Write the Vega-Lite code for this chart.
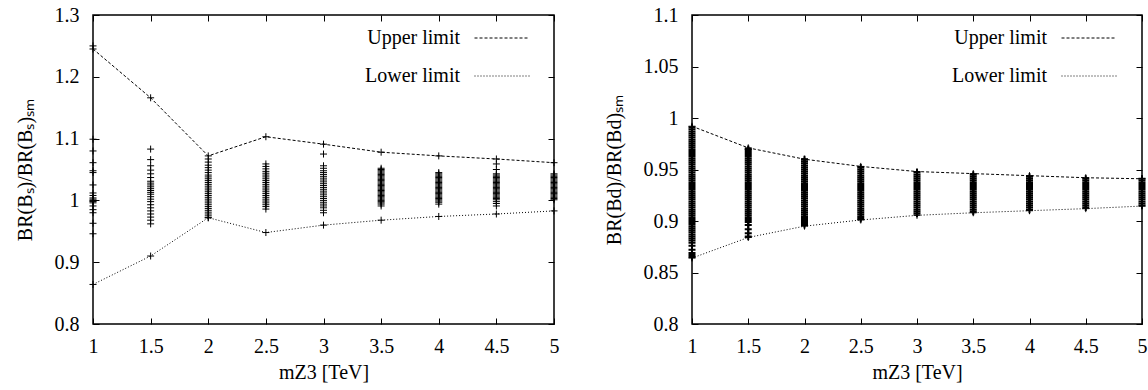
{
  "$schema": "https://vega.github.io/schema/vega-lite/v6.json",
  "padding": {"left": 14, "top": 4, "right": 0, "bottom": 0},
  "background": "white",
  "spacing": 42,
  "config": {
    "font": "Liberation Serif",
    "view": {"stroke": "black", "strokeWidth": 1.5},
    "axis": {"domain": false, "grid": false, "tickColor": "black", "tickSize": -6, "tickWidth": 1, "labelFlush": false,
      "labelFont": "Liberation Serif", "labelFontSize": 20, "labelColor": "black",
      "titleFont": "Liberation Serif", "titleFontSize": 20, "titleFontWeight": "normal", "titleColor": "black"},
    "legend": {"orient": "none", "title": null, "symbolType": "stroke", "symbolSize": 3025,
      "symbolStrokeColor": "black", "symbolStrokeWidth": 1, "labelAlign": "right", "labelOffset": -70,
      "labelFont": "Liberation Serif", "labelFontSize": 20, "labelColor": "black", "rowPadding": -8, "padding": 0}
  },
  "datasets": {
    "lp": [
      {"x":1,"y":1.25},{"x":1,"y":1.099},{"x":1,"y":1.080},{"x":1,"y":1.061},{"x":1,"y":1.048},{"x":1,"y":1.045},{"x":1,"y":1.025},{"x":1,"y":1.012},{"x":1,"y":1.008},{"x":1,"y":1.004},{"x":1,"y":1.002},{"x":1,"y":1.000},{"x":1,"y":0.999},{"x":1,"y":0.998},{"x":1,"y":0.996},{"x":1,"y":0.991},{"x":1,"y":0.985},{"x":1,"y":0.980},{"x":1,"y":0.963},{"x":1,"y":0.946},
      {"x":1.5,"y":1.083},{"x":1.5,"y":1.066},{"x":1.5,"y":1.056},{"x":1.5,"y":1.049},{"x":1.5,"y":1.043},{"x":1.5,"y":1.037},{"x":1.5,"y":1.031},{"x":1.5,"y":1.028},{"x":1.5,"y":1.025},{"x":1.5,"y":1.022},{"x":1.5,"y":1.019},{"x":1.5,"y":1.016},{"x":1.5,"y":1.013},{"x":1.5,"y":1.010},{"x":1.5,"y":1.006},{"x":1.5,"y":1.002},{"x":1.5,"y":0.998},{"x":1.5,"y":0.993},{"x":1.5,"y":0.988},{"x":1.5,"y":0.983},{"x":1.5,"y":0.978},{"x":1.5,"y":0.973},{"x":1.5,"y":0.968},{"x":1.5,"y":0.962},
      {"x":2,"y":1.067},{"x":2,"y":1.062},{"x":2,"y":1.057},{"x":2,"y":1.053},{"x":2,"y":1.049},{"x":2,"y":1.045},{"x":2,"y":1.041},{"x":2,"y":1.038},{"x":2,"y":1.035},{"x":2,"y":1.032},{"x":2,"y":1.029},{"x":2,"y":1.026},{"x":2,"y":1.023},{"x":2,"y":1.020},{"x":2,"y":1.017},{"x":2,"y":1.014},{"x":2,"y":1.011},{"x":2,"y":1.008},{"x":2,"y":1.005},{"x":2,"y":1.002},{"x":2,"y":0.999},{"x":2,"y":0.996},{"x":2,"y":0.993},{"x":2,"y":0.990},{"x":2,"y":0.987},{"x":2,"y":0.984},{"x":2,"y":0.981},{"x":2,"y":0.978},{"x":2,"y":0.975},{"x":2,"y":0.972},
      {"x":2.5,"y":1.059},{"x":2.5,"y":1.055},{"x":2.5,"y":1.051},{"x":2.5,"y":1.047},{"x":2.5,"y":1.044},{"x":2.5,"y":1.041},{"x":2.5,"y":1.038},{"x":2.5,"y":1.035},{"x":2.5,"y":1.032},{"x":2.5,"y":1.029},{"x":2.5,"y":1.026},{"x":2.5,"y":1.023},{"x":2.5,"y":1.020},{"x":2.5,"y":1.017},{"x":2.5,"y":1.014},{"x":2.5,"y":1.011},{"x":2.5,"y":1.008},{"x":2.5,"y":1.005},{"x":2.5,"y":1.002},{"x":2.5,"y":0.999},{"x":2.5,"y":0.996},{"x":2.5,"y":0.993},{"x":2.5,"y":0.990},{"x":2.5,"y":0.986},
      {"x":3,"y":1.075},{"x":3,"y":1.056},{"x":3,"y":1.052},{"x":3,"y":1.048},{"x":3,"y":1.045},{"x":3,"y":1.042},{"x":3,"y":1.039},{"x":3,"y":1.036},{"x":3,"y":1.033},{"x":3,"y":1.030},{"x":3,"y":1.027},{"x":3,"y":1.024},{"x":3,"y":1.021},{"x":3,"y":1.018},{"x":3,"y":1.015},{"x":3,"y":1.012},{"x":3,"y":1.009},{"x":3,"y":1.006},{"x":3,"y":1.003},{"x":3,"y":1.000},{"x":3,"y":0.997},{"x":3,"y":0.994},{"x":3,"y":0.991},{"x":3,"y":0.988},{"x":3,"y":0.984},{"x":3,"y":0.980},
      {"x":3.5,"y":1.052},{"x":3.5,"y":1.050},{"x":3.5,"y":1.048},{"x":3.5,"y":1.046},{"x":3.5,"y":1.044},{"x":3.5,"y":1.042},{"x":3.5,"y":1.040},{"x":3.5,"y":1.038},{"x":3.5,"y":1.036},{"x":3.5,"y":1.034},{"x":3.5,"y":1.032},{"x":3.5,"y":1.030},{"x":3.5,"y":1.028},{"x":3.5,"y":1.026},{"x":3.5,"y":1.024},{"x":3.5,"y":1.022},{"x":3.5,"y":1.020},{"x":3.5,"y":1.018},{"x":3.5,"y":1.016},{"x":3.5,"y":1.014},{"x":3.5,"y":1.012},{"x":3.5,"y":1.010},{"x":3.5,"y":1.008},{"x":3.5,"y":1.006},{"x":3.5,"y":1.004},{"x":3.5,"y":1.002},{"x":3.5,"y":1.000},{"x":3.5,"y":0.998},{"x":3.5,"y":0.996},{"x":3.5,"y":0.994},{"x":3.5,"y":0.991},
      {"x":4,"y":1.045},{"x":4,"y":1.043},{"x":4,"y":1.041},{"x":4,"y":1.039},{"x":4,"y":1.037},{"x":4,"y":1.035},{"x":4,"y":1.033},{"x":4,"y":1.031},{"x":4,"y":1.029},{"x":4,"y":1.027},{"x":4,"y":1.025},{"x":4,"y":1.023},{"x":4,"y":1.021},{"x":4,"y":1.019},{"x":4,"y":1.017},{"x":4,"y":1.015},{"x":4,"y":1.013},{"x":4,"y":1.011},{"x":4,"y":1.009},{"x":4,"y":1.007},{"x":4,"y":1.005},{"x":4,"y":1.003},{"x":4,"y":1.001},{"x":4,"y":0.999},{"x":4,"y":0.997},{"x":4,"y":0.994},
      {"x":4.5,"y":1.059},{"x":4.5,"y":1.050},{"x":4.5,"y":1.043},{"x":4.5,"y":1.041},{"x":4.5,"y":1.039},{"x":4.5,"y":1.037},{"x":4.5,"y":1.035},{"x":4.5,"y":1.033},{"x":4.5,"y":1.031},{"x":4.5,"y":1.029},{"x":4.5,"y":1.027},{"x":4.5,"y":1.025},{"x":4.5,"y":1.023},{"x":4.5,"y":1.021},{"x":4.5,"y":1.019},{"x":4.5,"y":1.017},{"x":4.5,"y":1.015},{"x":4.5,"y":1.013},{"x":4.5,"y":1.011},{"x":4.5,"y":1.009},{"x":4.5,"y":1.007},{"x":4.5,"y":1.005},{"x":4.5,"y":1.003},{"x":4.5,"y":1.001},{"x":4.5,"y":0.998},{"x":4.5,"y":0.995},{"x":4.5,"y":0.991},
      {"x":5,"y":1.043},{"x":5,"y":1.041},{"x":5,"y":1.039},{"x":5,"y":1.037},{"x":5,"y":1.035},{"x":5,"y":1.033},{"x":5,"y":1.031},{"x":5,"y":1.029},{"x":5,"y":1.027},{"x":5,"y":1.025},{"x":5,"y":1.023},{"x":5,"y":1.021},{"x":5,"y":1.019},{"x":5,"y":1.017},{"x":5,"y":1.015},{"x":5,"y":1.013},{"x":5,"y":1.011},{"x":5,"y":1.009},{"x":5,"y":1.007},{"x":5,"y":1.005},{"x":5,"y":1.003},{"x":5,"y":1.001}
    ],
    "ll": [
      {"x":1,"y":1.245,"limit":"Upper limit"},{"x":1.5,"y":1.166,"limit":"Upper limit"},{"x":2,"y":1.072,"limit":"Upper limit"},{"x":2.5,"y":1.103,"limit":"Upper limit"},{"x":3,"y":1.091,"limit":"Upper limit"},{"x":3.5,"y":1.078,"limit":"Upper limit"},{"x":4,"y":1.072,"limit":"Upper limit"},{"x":4.5,"y":1.067,"limit":"Upper limit"},{"x":5,"y":1.061,"limit":"Upper limit"},
      {"x":1,"y":0.864,"limit":"Lower limit"},{"x":1.5,"y":0.910,"limit":"Lower limit"},{"x":2,"y":0.972,"limit":"Lower limit"},{"x":2.5,"y":0.948,"limit":"Lower limit"},{"x":3,"y":0.960,"limit":"Lower limit"},{"x":3.5,"y":0.968,"limit":"Lower limit"},{"x":4,"y":0.974,"limit":"Lower limit"},{"x":4.5,"y":0.978,"limit":"Lower limit"},{"x":5,"y":0.983,"limit":"Lower limit"}
    ],
    "rp": [
      {"x":1,"y":0.865},{"x":1,"y":0.867},{"x":1,"y":0.869},{"x":1,"y":0.872},{"x":1,"y":0.876},{"x":1,"y":0.879},{"x":1,"y":0.881},{"x":1,"y":0.883},{"x":1,"y":0.885},{"x":1,"y":0.887},{"x":1,"y":0.889},{"x":1,"y":0.891},{"x":1,"y":0.893},{"x":1,"y":0.895},{"x":1,"y":0.897},{"x":1,"y":0.899},{"x":1,"y":0.901},{"x":1,"y":0.903},{"x":1,"y":0.905},{"x":1,"y":0.907},{"x":1,"y":0.909},{"x":1,"y":0.911},{"x":1,"y":0.913},{"x":1,"y":0.915},{"x":1,"y":0.917},{"x":1,"y":0.919},{"x":1,"y":0.921},{"x":1,"y":0.923},{"x":1,"y":0.925},{"x":1,"y":0.927},{"x":1,"y":0.929},{"x":1,"y":0.931},{"x":1,"y":0.933},{"x":1,"y":0.935},{"x":1,"y":0.937},{"x":1,"y":0.939},{"x":1,"y":0.941},{"x":1,"y":0.943},{"x":1,"y":0.945},{"x":1,"y":0.947},{"x":1,"y":0.949},{"x":1,"y":0.951},{"x":1,"y":0.953},{"x":1,"y":0.955},{"x":1,"y":0.957},{"x":1,"y":0.959},{"x":1,"y":0.961},{"x":1,"y":0.963},{"x":1,"y":0.965},{"x":1,"y":0.967},{"x":1,"y":0.969},{"x":1,"y":0.971},{"x":1,"y":0.973},{"x":1,"y":0.975},{"x":1,"y":0.977},{"x":1,"y":0.979},{"x":1,"y":0.981},{"x":1,"y":0.983},{"x":1,"y":0.985},{"x":1,"y":0.987},{"x":1,"y":0.989},{"x":1,"y":0.991},
      {"x":1.5,"y":0.885},{"x":1.5,"y":0.888},{"x":1.5,"y":0.892},{"x":1.5,"y":0.896},{"x":1.5,"y":0.899},{"x":1.5,"y":0.901},{"x":1.5,"y":0.903},{"x":1.5,"y":0.905},{"x":1.5,"y":0.907},{"x":1.5,"y":0.909},{"x":1.5,"y":0.911},{"x":1.5,"y":0.913},{"x":1.5,"y":0.915},{"x":1.5,"y":0.917},{"x":1.5,"y":0.919},{"x":1.5,"y":0.921},{"x":1.5,"y":0.923},{"x":1.5,"y":0.925},{"x":1.5,"y":0.927},{"x":1.5,"y":0.929},{"x":1.5,"y":0.931},{"x":1.5,"y":0.933},{"x":1.5,"y":0.935},{"x":1.5,"y":0.937},{"x":1.5,"y":0.939},{"x":1.5,"y":0.941},{"x":1.5,"y":0.943},{"x":1.5,"y":0.945},{"x":1.5,"y":0.947},{"x":1.5,"y":0.949},{"x":1.5,"y":0.951},{"x":1.5,"y":0.953},{"x":1.5,"y":0.955},{"x":1.5,"y":0.957},{"x":1.5,"y":0.959},{"x":1.5,"y":0.961},{"x":1.5,"y":0.963},{"x":1.5,"y":0.965},{"x":1.5,"y":0.967},{"x":1.5,"y":0.969},{"x":1.5,"y":0.970},
      {"x":2,"y":0.896},{"x":2,"y":0.898},{"x":2,"y":0.900},{"x":2,"y":0.902},{"x":2,"y":0.904},{"x":2,"y":0.906},{"x":2,"y":0.908},{"x":2,"y":0.910},{"x":2,"y":0.912},{"x":2,"y":0.914},{"x":2,"y":0.916},{"x":2,"y":0.918},{"x":2,"y":0.920},{"x":2,"y":0.922},{"x":2,"y":0.924},{"x":2,"y":0.926},{"x":2,"y":0.928},{"x":2,"y":0.930},{"x":2,"y":0.932},{"x":2,"y":0.934},{"x":2,"y":0.936},{"x":2,"y":0.938},{"x":2,"y":0.940},{"x":2,"y":0.942},{"x":2,"y":0.944},{"x":2,"y":0.946},{"x":2,"y":0.948},{"x":2,"y":0.950},{"x":2,"y":0.952},{"x":2,"y":0.954},{"x":2,"y":0.956},{"x":2,"y":0.958},{"x":2,"y":0.960},
      {"x":2.5,"y":0.902},{"x":2.5,"y":0.904},{"x":2.5,"y":0.906},{"x":2.5,"y":0.908},{"x":2.5,"y":0.910},{"x":2.5,"y":0.912},{"x":2.5,"y":0.914},{"x":2.5,"y":0.916},{"x":2.5,"y":0.918},{"x":2.5,"y":0.920},{"x":2.5,"y":0.922},{"x":2.5,"y":0.924},{"x":2.5,"y":0.926},{"x":2.5,"y":0.928},{"x":2.5,"y":0.930},{"x":2.5,"y":0.932},{"x":2.5,"y":0.934},{"x":2.5,"y":0.936},{"x":2.5,"y":0.938},{"x":2.5,"y":0.940},{"x":2.5,"y":0.942},{"x":2.5,"y":0.944},{"x":2.5,"y":0.946},{"x":2.5,"y":0.948},{"x":2.5,"y":0.950},{"x":2.5,"y":0.952},
      {"x":3,"y":0.907},{"x":3,"y":0.909},{"x":3,"y":0.911},{"x":3,"y":0.913},{"x":3,"y":0.915},{"x":3,"y":0.917},{"x":3,"y":0.919},{"x":3,"y":0.921},{"x":3,"y":0.923},{"x":3,"y":0.925},{"x":3,"y":0.927},{"x":3,"y":0.929},{"x":3,"y":0.931},{"x":3,"y":0.933},{"x":3,"y":0.935},{"x":3,"y":0.937},{"x":3,"y":0.939},{"x":3,"y":0.941},{"x":3,"y":0.943},{"x":3,"y":0.945},{"x":3,"y":0.947},
      {"x":3.5,"y":0.909},{"x":3.5,"y":0.911},{"x":3.5,"y":0.913},{"x":3.5,"y":0.915},{"x":3.5,"y":0.917},{"x":3.5,"y":0.919},{"x":3.5,"y":0.921},{"x":3.5,"y":0.923},{"x":3.5,"y":0.925},{"x":3.5,"y":0.927},{"x":3.5,"y":0.929},{"x":3.5,"y":0.931},{"x":3.5,"y":0.933},{"x":3.5,"y":0.935},{"x":3.5,"y":0.937},{"x":3.5,"y":0.939},{"x":3.5,"y":0.941},{"x":3.5,"y":0.943},{"x":3.5,"y":0.945},
      {"x":4,"y":0.911},{"x":4,"y":0.913},{"x":4,"y":0.915},{"x":4,"y":0.917},{"x":4,"y":0.919},{"x":4,"y":0.921},{"x":4,"y":0.923},{"x":4,"y":0.925},{"x":4,"y":0.927},{"x":4,"y":0.929},{"x":4,"y":0.931},{"x":4,"y":0.933},{"x":4,"y":0.935},{"x":4,"y":0.937},{"x":4,"y":0.939},{"x":4,"y":0.941},{"x":4,"y":0.943},
      {"x":4.5,"y":0.913},{"x":4.5,"y":0.915},{"x":4.5,"y":0.917},{"x":4.5,"y":0.919},{"x":4.5,"y":0.921},{"x":4.5,"y":0.923},{"x":4.5,"y":0.925},{"x":4.5,"y":0.927},{"x":4.5,"y":0.929},{"x":4.5,"y":0.931},{"x":4.5,"y":0.933},{"x":4.5,"y":0.935},{"x":4.5,"y":0.937},{"x":4.5,"y":0.939},{"x":4.5,"y":0.941},
      {"x":5,"y":0.915},{"x":5,"y":0.917},{"x":5,"y":0.919},{"x":5,"y":0.921},{"x":5,"y":0.923},{"x":5,"y":0.925},{"x":5,"y":0.927},{"x":5,"y":0.929},{"x":5,"y":0.931},{"x":5,"y":0.933},{"x":5,"y":0.935},{"x":5,"y":0.937},{"x":5,"y":0.939},{"x":5,"y":0.941}
    ],
    "rl": [
      {"x":1,"y":0.992,"limit":"Upper limit"},{"x":1.5,"y":0.971,"limit":"Upper limit"},{"x":2,"y":0.960,"limit":"Upper limit"},{"x":2.5,"y":0.953,"limit":"Upper limit"},{"x":3,"y":0.948,"limit":"Upper limit"},{"x":3.5,"y":0.946,"limit":"Upper limit"},{"x":4,"y":0.944,"limit":"Upper limit"},{"x":4.5,"y":0.942,"limit":"Upper limit"},{"x":5,"y":0.941,"limit":"Upper limit"},
      {"x":1,"y":0.864,"limit":"Lower limit"},{"x":1.5,"y":0.884,"limit":"Lower limit"},{"x":2,"y":0.895,"limit":"Lower limit"},{"x":2.5,"y":0.901,"limit":"Lower limit"},{"x":3,"y":0.9055,"limit":"Lower limit"},{"x":3.5,"y":0.908,"limit":"Lower limit"},{"x":4,"y":0.910,"limit":"Lower limit"},{"x":4.5,"y":0.912,"limit":"Lower limit"},{"x":5,"y":0.9145,"limit":"Lower limit"}
    ]
  },
  "hconcat": [
    {
      "width": 461, "height": 309,
      "resolve": {"axis": {"x": "independent", "y": "independent"}},
      "layer": [
        {
          "data": {"name": "lp"},
          "mark": {"type": "point", "shape": "M-1,0L1,0M0,-1L0,1", "size": 49, "filled": false, "stroke": "black", "strokeWidth": 1, "opacity": 1},
          "encoding": {
            "x": {"field": "x", "type": "quantitative", "scale": {"domain": [1, 5], "nice": false, "zero": false},
              "axis": {"values": [1, 1.5, 2, 2.5, 3, 3.5, 4, 4.5, 5], "format": "~g", "title": "mZ3 [TeV]", "labelPadding": 18, "titlePadding": 6}},
            "y": {"field": "y", "type": "quantitative", "scale": {"domain": [0.8, 1.3], "nice": false, "zero": false},
              "axis": {"values": [0.8, 0.9, 1, 1.1, 1.2, 1.3], "format": "~g", "title": "BR(Bₛ)/BR(Bₛ)ₛₘ", "labelPadding": 20, "titlePadding": 19}}
          }
        },
        {
          "data": {"name": "ll"},
          "mark": {"type": "point", "shape": "M-1,0L1,0M0,-1L0,1", "size": 49, "filled": false, "stroke": "black", "strokeWidth": 1, "opacity": 1},
          "encoding": {
            "x": {"field": "x", "type": "quantitative", "scale": {"domain": [1, 5], "nice": false, "zero": false},
              "axis": {"orient": "top", "values": [1, 1.5, 2, 2.5, 3, 3.5, 4, 4.5, 5], "labels": false, "title": null}},
            "y": {"field": "y", "type": "quantitative", "scale": {"domain": [0.8, 1.3], "nice": false, "zero": false},
              "axis": {"orient": "right", "values": [0.8, 0.9, 1, 1.1, 1.2, 1.3], "labels": false, "title": null}}
          }
        },
        {
          "data": {"name": "ll"},
          "mark": {"type": "line", "color": "black", "strokeWidth": 1},
          "encoding": {
            "x": {"field": "x", "type": "quantitative", "scale": {"domain": [1, 5], "nice": false, "zero": false}, "axis": null},
            "y": {"field": "y", "type": "quantitative", "scale": {"domain": [0.8, 1.3], "nice": false, "zero": false}, "axis": null},
            "strokeDash": {"field": "limit", "type": "nominal",
              "scale": {"domain": ["Upper limit", "Lower limit"], "range": [[3, 2], [1, 2]]},
              "legend": {"legendX": 381, "legendY": -5}}
          }
        }
      ]
    },
    {
      "width": 450, "height": 309,
      "resolve": {"axis": {"x": "independent", "y": "independent"}},
      "layer": [
        {
          "data": {"name": "rp"},
          "mark": {"type": "point", "shape": "M-1,0L1,0M0,-1L0,1", "size": 49, "filled": false, "stroke": "black", "strokeWidth": 2, "opacity": 1},
          "encoding": {
            "x": {"field": "x", "type": "quantitative", "scale": {"domain": [1, 5], "nice": false, "zero": false},
              "axis": {"values": [1, 1.5, 2, 2.5, 3, 3.5, 4, 4.5, 5], "format": "~g", "title": "mZ3 [TeV]", "labelPadding": 18, "titlePadding": 6}},
            "y": {"field": "y", "type": "quantitative", "scale": {"domain": [0.8, 1.1], "nice": false, "zero": false},
              "axis": {"values": [0.8, 0.85, 0.9, 0.95, 1, 1.05, 1.1], "format": "~g", "title": "BR(Bd)/BR(Bd)ₛₘ", "labelPadding": 20, "titlePadding": 19}}
          }
        },
        {
          "data": {"name": "rl"},
          "mark": {"type": "point", "shape": "M-1,0L1,0M0,-1L0,1", "size": 49, "filled": false, "stroke": "black", "strokeWidth": 1, "opacity": 1},
          "encoding": {
            "x": {"field": "x", "type": "quantitative", "scale": {"domain": [1, 5], "nice": false, "zero": false},
              "axis": {"orient": "top", "values": [1, 1.5, 2, 2.5, 3, 3.5, 4, 4.5, 5], "labels": false, "title": null}},
            "y": {"field": "y", "type": "quantitative", "scale": {"domain": [0.8, 1.1], "nice": false, "zero": false},
              "axis": {"orient": "right", "values": [0.8, 0.85, 0.9, 0.95, 1, 1.05, 1.1], "labels": false, "title": null}}
          }
        },
        {
          "data": {"name": "rl"},
          "mark": {"type": "line", "color": "black", "strokeWidth": 1},
          "encoding": {
            "x": {"field": "x", "type": "quantitative", "scale": {"domain": [1, 5], "nice": false, "zero": false}, "axis": null},
            "y": {"field": "y", "type": "quantitative", "scale": {"domain": [0.8, 1.1], "nice": false, "zero": false}, "axis": null},
            "strokeDash": {"field": "limit", "type": "nominal",
              "scale": {"domain": ["Upper limit", "Lower limit"], "range": [[3, 2], [1, 2]]},
              "legend": {"legendX": 369, "legendY": -5}}
          }
        }
      ]
    }
  ],
  "resolve": {"scale": {"strokeDash": "independent"}, "legend": {"strokeDash": "independent"}}
}
